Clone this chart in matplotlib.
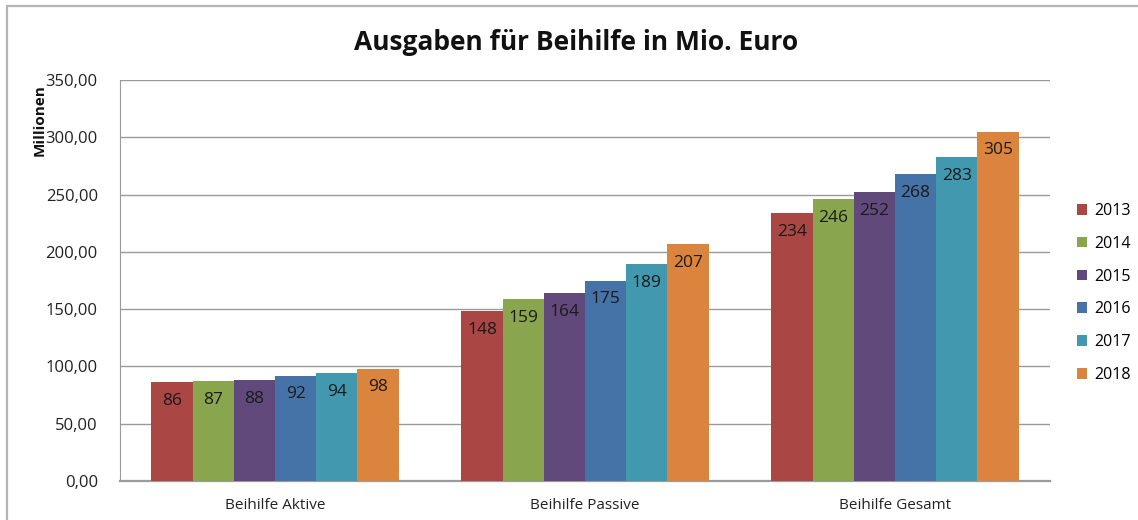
import matplotlib
matplotlib.use("Agg")
import matplotlib.pyplot as plt
from matplotlib.patches import Rectangle, Patch
import numpy as np

categories = ["Beihilfe Aktive", "Beihilfe Passive", "Beihilfe Gesamt"]
years = ["2013", "2014", "2015", "2016", "2017", "2018"]
values_2013 = [86, 148, 234]
values_2014 = [87, 159, 246]
values_2015 = [88, 164, 252]
values_2016 = [92, 175, 268]
values_2017 = [94, 189, 283]
values_2018 = [98, 207, 305]
series = [values_2013, values_2014, values_2015, values_2016, values_2017, values_2018]
colors = ["#AA4643", "#89A54E", "#614A7B", "#4572A7", "#4198AF", "#DB843D"]
yticks = [0, 50, 100, 150, 200, 250, 300, 350]

plt.rcParams["font.family"] = ["Open Sans", "DejaVu Sans"]

W, H = 1138, 520
fig = plt.figure(figsize=(W / 100, H / 100), dpi=100)
fig.patch.set_facecolor("white")

# outer chart frame
fig.patches.append(Rectangle((7 / W, -0.05), 1.1, 1 - 6 / H + 0.05,
                             transform=fig.transFigure, fill=False,
                             edgecolor="#b4b4b4", linewidth=1.6))

ax = fig.add_axes([120 / W, 1 - 481 / H, (1050 - 120) / W, (481 - 80) / H])
x = np.arange(len(categories))
bw = 0.1328
for i, (vals, col, yr) in enumerate(zip(series, colors, years)):
    xpos = x + (i - 2.5) * bw
    ax.bar(xpos, vals, width=bw, color=col, label=yr, zorder=3)
    for xp, v in zip(xpos, vals):
        ax.annotate(f"{v}", (xp, v), xytext=(0, -13.5), textcoords="offset points",
                    ha="center", va="center", fontsize=12.5, color="#1a1a1a", zorder=4)

ax.set_xlim(-0.5, 2.5)
ax.set_ylim(0, 350)
ax.set_yticks(yticks)
ax.set_yticklabels([f"{t:.2f}".replace(".", ",") for t in yticks], fontsize=12, color="#222222")
ax.set_xticks(x)
ax.set_xticklabels(categories, fontsize=11, color="#222222")
ax.tick_params(axis="both", length=0)
ax.tick_params(axis="y", pad=16)
ax.tick_params(axis="x", pad=12)
ax.grid(axis="y", color="#9a9a9a", linewidth=1.0, zorder=0)
for s in ["top", "right"]:
    ax.spines[s].set_visible(False)
ax.spines["left"].set_color("#9a9a9a")
ax.spines["bottom"].set_color("#9a9a9a")
ax.spines["bottom"].set_linewidth(1.6)

fig.text(576 / W, 1 - 42 / H, "Ausgaben für Beihilfe in Mio. Euro", ha="center", va="center",
         fontsize=19, fontweight="bold", color="#111111")
fig.text(40 / W, 1 - 120 / H, "Millionen", rotation=90, ha="center", va="center",
         fontsize=11, fontweight="bold", color="#111111")

handles = [Patch(facecolor=c, label=y) for c, y in zip(colors, years)]
fig.legend(handles=handles, loc="upper left", bbox_to_anchor=(1077 / W, 1 - 203 / H),
           frameon=False, fontsize=11.5, handlelength=0.65, handleheight=0.65,
           handletextpad=0.45, labelspacing=1.05, borderaxespad=0, borderpad=0)

fig.savefig("out.png", dpi=100, facecolor="white")
